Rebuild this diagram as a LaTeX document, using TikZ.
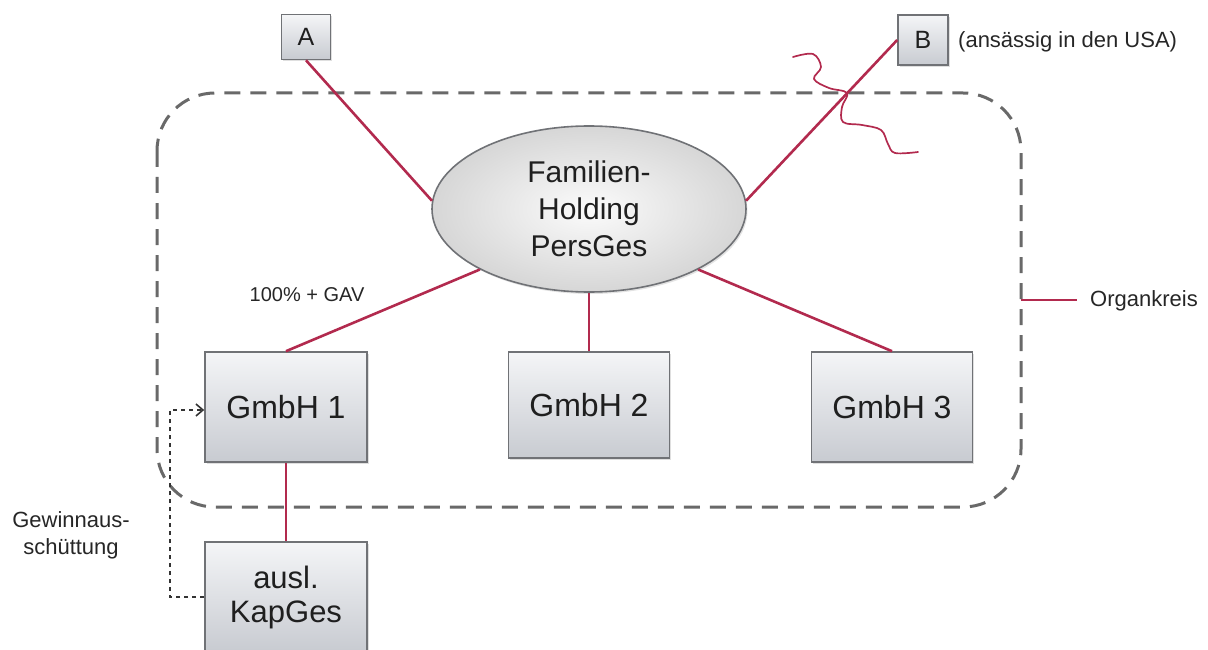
\documentclass[tikz,border=0pt]{standalone}
\usepackage{fontspec}
\setmainfont{Liberation Sans}
\usetikzlibrary{shapes.geometric,arrows.meta,shadows,calc}
\definecolor{crim}{RGB}{178,42,78}
\definecolor{dgray}{RGB}{105,105,105}
\definecolor{bord}{RGB}{112,114,118}
\definecolor{boxtop}{RGB}{244,245,247}
\definecolor{boxbot}{RGB}{200,203,209}
\tikzset{
  gbox/.style={draw=bord, line width=1.6pt, top color=boxtop, bottom color=boxbot,
    drop shadow={opacity=0.25, shadow xshift=1.5pt, shadow yshift=-2pt},
    align=center, inner sep=0pt, text=black!88},
  rline/.style={draw=crim, line width=2.6pt},
  lbl/.style={font=\fontsize{22}{27}\selectfont, inner sep=0pt, text=black!85},
}
\begin{document}
\begin{tikzpicture}[x=1pt,y=-1pt]
\useasboundingbox (0,0) rectangle (1208,650);
% Organkreis
\draw[dgray, line width=3pt, dash pattern=on 16pt off 10pt, rounded corners=58pt]
  (157,93) rectangle (1021,507);
% nodes
\node[gbox, minimum width=49pt, minimum height=45pt, font=\fontsize{25}{28}\selectfont] (A) at (306,37) {A};
\node[gbox, minimum width=50pt, minimum height=50pt, font=\fontsize{25}{28}\selectfont] (B) at (923,40) {B};
\node[lbl, anchor=west] (usa) at (958,42) {(ansässig in den USA)};
\node[ellipse, draw=bord, line width=1.6pt, inner color=white!97!gray, outer color=gray!32,
  drop shadow={opacity=0.22, shadow xshift=1.5pt, shadow yshift=-2pt},
  minimum width=314pt, minimum height=166pt, inner sep=0pt, align=center, text=black!88,
  font=\fontsize{30}{37}\selectfont] (E) at (589,209) {Familien-\\Holding\\PersGes};
\node[gbox, minimum width=162pt, minimum height=110pt, font=\fontsize{32}{36}\selectfont] (G1) at (286,407) {GmbH 1};
\node[gbox, minimum width=161pt, minimum height=106pt, font=\fontsize{32}{36}\selectfont] (G2) at (589,405) {GmbH 2};
\node[gbox, minimum width=161pt, minimum height=110pt, font=\fontsize{32}{36}\selectfont] (G3) at (892,407) {GmbH 3};
\node[gbox, minimum width=162pt, minimum height=110pt, font=\fontsize{31}{34}\selectfont] (K) at (286,597) {ausl.\\KapGes};
\node[lbl, font=\fontsize{20}{24}\selectfont] (gav) at (307,295) {100\% + GAV};
\node[lbl, align=center] (gew) at (71,535) {Gewinnaus-\\schüttung};
\node[lbl, anchor=west] (org) at (1090,301) {Organkreis};
\coordinate (legs) at (1021,300);
% connectors
\draw[rline] (A.south) -- (E.177);
\draw[rline] (B.west) -- (E.3);
\draw[rline] (E.209) -- (G1.north);
\draw[rline] (E.south) -- (G2.north);
\draw[rline] (E.331) -- (G3.north);
\draw[rline] (G1.south) -- (K.north);
\draw[rline] (legs) -- ($(org.west)+(-13,-1)$);
% Gewinnausschuettung arrow
\draw[black!80, line width=1.6pt, dash pattern=on 4pt off 4pt,
  -{Straight Barb[length=7pt,width=12pt,line width=1.6pt]}]
  (K.west) -- ++(-34,0) |- ($(G1.west)+(0,3)$);
% squiggle
\draw[crim, line width=1.7pt, line cap=round]
  plot[smooth, tension=0.6] coordinates {(793,57) (813,54) (821,67) (814,79) (829,88) (847,93) (842,107) (843,122) (862,125) (881,130) (888,144) (895,153) (918,152)};
\end{tikzpicture}
\end{document}
